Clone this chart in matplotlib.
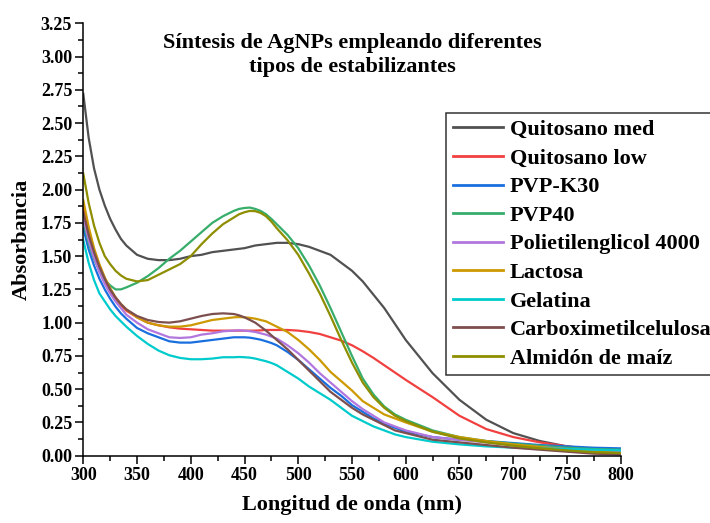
import matplotlib
matplotlib.use("Agg")
import matplotlib.pyplot as plt
from matplotlib.ticker import MultipleLocator

plt.rcParams['font.family'] = ['Liberation Serif', 'DejaVu Serif']
plt.rcParams['font.weight'] = 'bold'

wavelength = [300, 305, 310, 315, 320, 325, 330, 335, 340, 350, 360, 370, 380, 390, 400, 410, 420,
              430, 440, 445, 450, 455, 460, 465, 470, 475, 480, 490, 500, 510, 520, 530, 540, 550,
              560, 570, 580, 590, 600, 625, 650, 675, 700, 725, 750, 775, 800]

quitosano_med = [2.72, 2.39, 2.16, 2.00, 1.88, 1.78, 1.70, 1.63, 1.58, 1.51, 1.48, 1.47, 1.47, 1.48, 1.50, 1.51, 1.53,
                 1.54, 1.55, 1.555, 1.56, 1.57, 1.58, 1.585, 1.59, 1.595, 1.60, 1.60, 1.59, 1.57, 1.54, 1.51, 1.45, 1.39,
                 1.31, 1.21, 1.11, 0.99, 0.87, 0.62, 0.42, 0.27, 0.17, 0.11, 0.07, 0.04, 0.02]
quitosano_low = [1.86, 1.68, 1.53, 1.41, 1.31, 1.23, 1.17, 1.13, 1.09, 1.04, 1.00, 0.98, 0.965, 0.955, 0.95, 0.945, 0.94,
                 0.94, 0.94, 0.94, 0.94, 0.94, 0.94, 0.942, 0.945, 0.945, 0.945, 0.945, 0.94, 0.93, 0.915, 0.89, 0.865, 0.83,
                 0.785, 0.735, 0.68, 0.625, 0.57, 0.44, 0.30, 0.20, 0.14, 0.10, 0.07, 0.05, 0.035]
pvp_k30 = [1.71, 1.55, 1.43, 1.33, 1.25, 1.18, 1.12, 1.07, 1.03, 0.96, 0.92, 0.89, 0.86, 0.85, 0.85, 0.86, 0.87,
           0.88, 0.89, 0.89, 0.89, 0.887, 0.88, 0.872, 0.86, 0.847, 0.83, 0.78, 0.72, 0.65, 0.58, 0.51, 0.45, 0.38,
           0.33, 0.28, 0.24, 0.21, 0.18, 0.14, 0.12, 0.11, 0.095, 0.08, 0.07, 0.06, 0.055]
pvp40 = [1.76, 1.60, 1.48, 1.39, 1.32, 1.28, 1.25, 1.25, 1.265, 1.30, 1.35, 1.41, 1.48, 1.54, 1.61, 1.68, 1.75,
         1.80, 1.84, 1.855, 1.862, 1.865, 1.855, 1.84, 1.815, 1.78, 1.74, 1.66, 1.56, 1.43, 1.28, 1.11, 0.93, 0.75,
         0.58, 0.46, 0.37, 0.31, 0.27, 0.19, 0.14, 0.11, 0.09, 0.075, 0.06, 0.05, 0.045]
peg4000 = [1.79, 1.62, 1.49, 1.38, 1.29, 1.22, 1.16, 1.11, 1.06, 1.00, 0.95, 0.92, 0.89, 0.885, 0.89, 0.91, 0.92,
           0.935, 0.94, 0.942, 0.94, 0.936, 0.93, 0.92, 0.91, 0.895, 0.88, 0.83, 0.77, 0.70, 0.62, 0.55, 0.48, 0.41,
           0.35, 0.30, 0.25, 0.22, 0.19, 0.14, 0.12, 0.10, 0.08, 0.065, 0.05, 0.04, 0.035]
lactosa = [1.92, 1.72, 1.56, 1.44, 1.34, 1.26, 1.19, 1.14, 1.10, 1.04, 1.00, 0.98, 0.97, 0.97, 0.98, 1.00, 1.02,
           1.03, 1.04, 1.042, 1.04, 1.036, 1.03, 1.02, 1.01, 0.99, 0.97, 0.93, 0.87, 0.80, 0.72, 0.63, 0.56, 0.49,
           0.41, 0.36, 0.31, 0.28, 0.25, 0.18, 0.14, 0.11, 0.085, 0.065, 0.045, 0.03, 0.02]
gelatina = [1.62, 1.45, 1.32, 1.22, 1.16, 1.10, 1.05, 1.01, 0.97, 0.90, 0.84, 0.79, 0.755, 0.735, 0.725, 0.725, 0.73,
            0.74, 0.74, 0.742, 0.74, 0.737, 0.73, 0.72, 0.71, 0.697, 0.68, 0.63, 0.58, 0.52, 0.47, 0.42, 0.36, 0.30,
            0.26, 0.22, 0.19, 0.16, 0.14, 0.105, 0.085, 0.07, 0.06, 0.055, 0.05, 0.045, 0.04]
carboximetilcelulosa = [1.83, 1.66, 1.53, 1.42, 1.33, 1.25, 1.19, 1.14, 1.10, 1.05, 1.02, 1.005, 1.00, 1.01, 1.03, 1.05, 1.065,
                        1.07, 1.065, 1.055, 1.04, 1.02, 1.00, 0.97, 0.94, 0.905, 0.87, 0.80, 0.72, 0.64, 0.56, 0.48, 0.42, 0.36,
                        0.31, 0.27, 0.23, 0.19, 0.17, 0.12, 0.10, 0.08, 0.06, 0.045, 0.03, 0.015, 0.01]
almidon = [2.12, 1.90, 1.73, 1.60, 1.50, 1.44, 1.39, 1.355, 1.33, 1.31, 1.32, 1.36, 1.40, 1.44, 1.50, 1.59, 1.67,
           1.74, 1.79, 1.815, 1.83, 1.84, 1.838, 1.825, 1.80, 1.76, 1.71, 1.62, 1.51, 1.37, 1.22, 1.05, 0.87, 0.70,
           0.55, 0.44, 0.36, 0.30, 0.26, 0.18, 0.13, 0.10, 0.075, 0.055, 0.04, 0.025, 0.02]

labels = ["Quitosano med", "Quitosano low", "PVP-K30", "PVP40", "Polietilenglicol 4000",
          "Lactosa", "Gelatina", "Carboximetilcelulosa", "Almidón de maíz"]
series = [quitosano_med, quitosano_low, pvp_k30, pvp40, peg4000, lactosa, gelatina,
          carboximetilcelulosa, almidon]
colors = ["#515151", "#F14040", "#1A6FDF", "#37AD6B", "#B177DE", "#CC9900", "#00CBCC",
          "#7D4E4E", "#8E8E00"]

fig = plt.figure(figsize=(7.10, 5.23), dpi=100)
ax = fig.add_axes([0.1173, 0.1287, 0.7569, 0.8267])

for y, lab, c in zip(series, labels, colors):
    ax.plot(wavelength, y, color=c, lw=1.6, label=lab, solid_joinstyle='round')

ax.set_xlim(300, 800)
ax.set_ylim(0, 3.25)
ax.xaxis.set_major_locator(MultipleLocator(50))
ax.xaxis.set_minor_locator(MultipleLocator(25))
ax.yaxis.set_major_locator(MultipleLocator(0.25))
ax.yaxis.set_minor_locator(MultipleLocator(0.125))
ax.yaxis.set_major_formatter(plt.FuncFormatter(lambda v, p: f"{v:.2f}"))
ax.spines['top'].set_visible(False)
ax.spines['right'].set_visible(False)
for s in ['left', 'bottom']:
    ax.spines[s].set_linewidth(1.1)
ax.tick_params(which='major', direction='out', length=6, width=1.1, labelsize=13, pad=2)
ax.tick_params(which='minor', direction='out', length=3.5, width=1.1)
for t in ax.get_xticklabels() + ax.get_yticklabels():
    t.set_fontweight('bold')

ax.set_xlabel("Longitud de onda (nm)", fontsize=16, fontweight='bold')
ax.set_ylabel("Absorbancia", fontsize=16, fontweight='bold')
ax.xaxis.set_label_coords(0.5, -0.092)
ax.yaxis.set_label_coords(-0.095, 0.5)

fig.text(352 / 710, 1 - 55 / 523, "Síntesis de AgNPs empleando diferentes\ntipos de estabilizantes",
         ha='center', va='center', fontsize=16, fontweight='bold', linespacing=1.3)

leg = ax.legend(loc='upper left', bbox_to_anchor=(446 / 710, 1 - 113 / 523),
                bbox_transform=fig.transFigure, frameon=True, fancybox=False,
                prop={'size': 16, 'weight': 'bold'}, handlelength=2.25, handletextpad=0.32,
                labelspacing=0.36, borderpad=0.3, borderaxespad=0)
leg.get_frame().set_edgecolor('black')
leg.get_frame().set_linewidth(1.1)
for lh in leg.get_lines():
    lh.set_linewidth(2.0)

fig.savefig("out.png", dpi=100)
